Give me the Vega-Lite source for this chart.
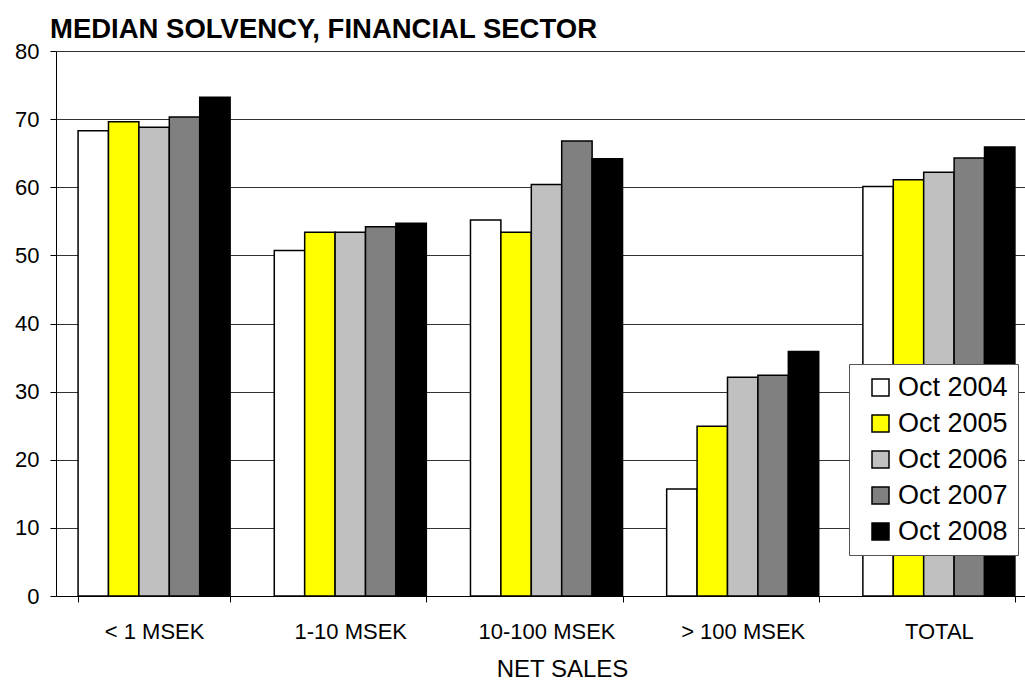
{
  "$schema": "https://vega.github.io/schema/vega-lite/v6.json",
  "autosize": {"type": "none"},
  "padding": {"left": 56, "top": 51, "right": 0, "bottom": 85},
  "width": 969,
  "height": 545,
  "background": "white",
  "title": {
    "text": "MEDIAN SOLVENCY, FINANCIAL SECTOR",
    "anchor": "start",
    "frame": "group",
    "dx": -6,
    "dy": 27,
    "font": "Liberation Sans",
    "fontSize": 27.5,
    "fontWeight": "bold",
    "color": "#000000",
    "baseline": "alphabetic",
    "offset": 2
  },
  "data": {
    "values": [
      {"sales": "< 1 MSEK", "period": "Oct 2004", "solvency": 68.3},
      {"sales": "< 1 MSEK", "period": "Oct 2005", "solvency": 69.6},
      {"sales": "< 1 MSEK", "period": "Oct 2006", "solvency": 68.8},
      {"sales": "< 1 MSEK", "period": "Oct 2007", "solvency": 70.3},
      {"sales": "< 1 MSEK", "period": "Oct 2008", "solvency": 73.2},
      {"sales": "1-10 MSEK", "period": "Oct 2004", "solvency": 50.7},
      {"sales": "1-10 MSEK", "period": "Oct 2005", "solvency": 53.4},
      {"sales": "1-10 MSEK", "period": "Oct 2006", "solvency": 53.4},
      {"sales": "1-10 MSEK", "period": "Oct 2007", "solvency": 54.2},
      {"sales": "1-10 MSEK", "period": "Oct 2008", "solvency": 54.7},
      {"sales": "10-100 MSEK", "period": "Oct 2004", "solvency": 55.2},
      {"sales": "10-100 MSEK", "period": "Oct 2005", "solvency": 53.4},
      {"sales": "10-100 MSEK", "period": "Oct 2006", "solvency": 60.4},
      {"sales": "10-100 MSEK", "period": "Oct 2007", "solvency": 66.8},
      {"sales": "10-100 MSEK", "period": "Oct 2008", "solvency": 64.2},
      {"sales": "> 100 MSEK", "period": "Oct 2004", "solvency": 15.7},
      {"sales": "> 100 MSEK", "period": "Oct 2005", "solvency": 24.9},
      {"sales": "> 100 MSEK", "period": "Oct 2006", "solvency": 32.1},
      {"sales": "> 100 MSEK", "period": "Oct 2007", "solvency": 32.4},
      {"sales": "> 100 MSEK", "period": "Oct 2008", "solvency": 35.9},
      {"sales": "TOTAL", "period": "Oct 2004", "solvency": 60.1},
      {"sales": "TOTAL", "period": "Oct 2005", "solvency": 61.1},
      {"sales": "TOTAL", "period": "Oct 2006", "solvency": 62.2},
      {"sales": "TOTAL", "period": "Oct 2007", "solvency": 64.3},
      {"sales": "TOTAL", "period": "Oct 2008", "solvency": 65.9}
    ]
  },
  "mark": {"type": "bar", "stroke": "#000000", "strokeWidth": 1.5},
  "encoding": {
    "x": {
      "field": "sales",
      "type": "nominal",
      "sort": ["< 1 MSEK", "1-10 MSEK", "10-100 MSEK", "> 100 MSEK", "TOTAL"],
      "scale": {"range": [0, 981], "paddingInner": 0.225, "paddingOuter": 0.1125},
      "axis": {
        "title": "NET SALES",
        "titleFont": "Liberation Sans",
        "titleFontSize": 24,
        "titleFontWeight": "normal",
        "titleColor": "#000000",
        "titleX": 506,
        "titleY": 80,
        "titleAlign": "center",
        "titleBaseline": "alphabetic",
        "labelFont": "Liberation Sans",
        "labelFontSize": 22,
        "labelColor": "#000000",
        "labelAngle": 0,
        "labelPadding": 19,
        "tickBand": "extent",
        "tickSize": 6,
        "tickColor": "#000000",
        "domainColor": "#000000",
        "domainWidth": 1,
        "grid": false
      }
    },
    "xOffset": {
      "field": "period",
      "type": "nominal",
      "scale": {"paddingInner": 0, "paddingOuter": 0}
    },
    "y": {
      "field": "solvency",
      "type": "quantitative",
      "scale": {"domain": [0, 80], "nice": false},
      "axis": {
        "title": null,
        "values": [0, 10, 20, 30, 40, 50, 60, 70, 80],
        "labelFont": "Liberation Sans",
        "labelFontSize": 22,
        "labelColor": "#000000",
        "labelPadding": 11,
        "tickSize": 6,
        "tickColor": "#000000",
        "domainColor": "#000000",
        "grid": true,
        "gridColor": "#333333",
        "gridWidth": 1
      }
    },
    "fill": {
      "field": "period",
      "type": "nominal",
      "scale": {
        "domain": ["Oct 2004", "Oct 2005", "Oct 2006", "Oct 2007", "Oct 2008"],
        "range": ["#FFFFFF", "#FFFF00", "#C0C0C0", "#808080", "#000000"]
      },
      "legend": {
        "title": null,
        "orient": "none",
        "legendX": 793,
        "legendY": 313,
        "fillColor": "#FFFFFF",
        "strokeColor": "#555555",
        "padding": 10,
        "symbolType": "square",
        "symbolSize": 289,
        "symbolStrokeColor": "#000000",
        "symbolStrokeWidth": 1.5,
        "symbolOffset": 8,
        "labelFont": "Liberation Sans",
        "labelFontSize": 27,
        "labelColor": "#000000",
        "labelOffset": 4,
        "rowPadding": 8
      }
    }
  },
  "config": {"view": {"stroke": null}}
}
